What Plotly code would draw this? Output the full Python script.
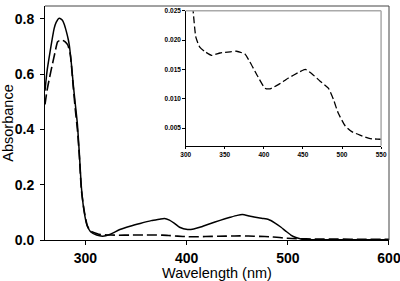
import plotly.graph_objects as go

# Solid curve (main)
solid_wl = [260, 262, 265, 269, 271, 274, 277, 279, 281, 283, 284, 286, 288, 290, 292, 294, 296, 298.5,
            301.5, 305, 311, 317, 324, 334, 344, 354, 365, 373, 378, 383, 388, 393, 401, 407, 413, 423,
            433, 443, 450, 455, 462, 468, 475, 481, 487, 493, 498, 503, 508, 513, 520, 530, 560, 600]
solid_abs = [0.54, 0.61, 0.68, 0.764, 0.787, 0.802, 0.795, 0.78, 0.755, 0.725, 0.705, 0.64, 0.56, 0.49,
             0.42, 0.31, 0.19, 0.107, 0.053, 0.03, 0.018, 0.014, 0.02, 0.038, 0.05, 0.06, 0.07, 0.075,
             0.078, 0.072, 0.06, 0.046, 0.038, 0.04, 0.046, 0.059, 0.071, 0.082, 0.089, 0.092, 0.087,
             0.082, 0.078, 0.074, 0.062, 0.047, 0.032, 0.018, 0.009, 0.004, 0.002, 0.001, 0.001, 0.001]

# Dashed curve (main and inset)
dash_wl = [260, 262, 264.5, 267, 270, 272.5, 275, 277, 280, 282.5, 285, 288, 290, 292, 294, 296, 299,
           302, 305, 309.5, 313, 318, 325, 333, 344, 357, 365, 376, 382, 391, 401.5, 408, 418.5, 431,
           446, 453, 461, 472, 482.5, 489, 495, 504, 512.5, 523, 536, 549, 575, 600]
dash_abs = [0.49, 0.54, 0.587, 0.63, 0.68, 0.717, 0.722, 0.723, 0.716, 0.705, 0.67, 0.55, 0.47, 0.40,
            0.30, 0.18, 0.10, 0.05, 0.032, 0.025, 0.0205, 0.0188, 0.018, 0.0174, 0.0178, 0.018, 0.0181,
            0.0176, 0.0163, 0.0141, 0.0118, 0.0117, 0.0124, 0.0135, 0.0146, 0.0150, 0.0143, 0.0130,
            0.0118, 0.0099, 0.0076, 0.0054, 0.0044, 0.0038, 0.0032, 0.0031, 0.0028, 0.0025]

main_xticks = [300, 400, 500, 600]
main_yticks = [0.0, 0.2, 0.4, 0.6, 0.8]
inset_xticks = [300, 350, 400, 450, 500, 550]
inset_yticks = [0.005, 0.010, 0.015, 0.020, 0.025]

FONT = "Arial, Liberation Sans, sans-serif"

fig = go.Figure()
fig.add_trace(go.Scatter(x=solid_wl, y=solid_abs, mode="lines",
                         line=dict(color="black", width=1.5, shape="spline", smoothing=0.6),
                         xaxis="x", yaxis="y", showlegend=False))
fig.add_trace(go.Scatter(x=dash_wl, y=dash_abs, mode="lines",
                         line=dict(color="black", width=1.6, dash="10px,4px", shape="spline", smoothing=0.6),
                         xaxis="x", yaxis="y", showlegend=False))
fig.add_trace(go.Scatter(x=dash_wl, y=dash_abs, mode="lines",
                         line=dict(color="black", width=1.3, dash="7px,3px", shape="spline", smoothing=0.5),
                         xaxis="x2", yaxis="y2", showlegend=False))

fig.update_layout(
    width=400, height=281,
    margin=dict(l=45, r=11, t=2, b=41),
    paper_bgcolor="white", plot_bgcolor="white",
    font=dict(family=FONT, color="black"),
    xaxis=dict(domain=[0, 1], range=[260, 600.01], tickvals=main_xticks,
               showline=True, linecolor="black", linewidth=1, ticks="outside", ticklen=4,
               tickcolor="black", showgrid=False, zeroline=False, automargin=False,
               ticklabeloverflow="allow", ticklabelstandoff=1,
               tickfont=dict(size=14, weight="bold", family=FONT),
               title=dict(text="Wavelength (nm)", font=dict(size=14.5, family=FONT), standoff=5)),
    yaxis=dict(domain=[0, 1], range=[0, 0.846], tickvals=main_yticks, tickformat=".1f",
               showline=True, linecolor="black", linewidth=1, ticks="outside", ticklen=4,
               tickcolor="black", showgrid=False, zeroline=False, automargin=False,
               ticklabeloverflow="allow", ticklabelstandoff=3,
               tickfont=dict(size=14, weight="bold", family=FONT),
               title=dict(text="Absorbance", font=dict(size=14.5, family=FONT), standoff=3)),
    xaxis2=dict(domain=[0.409, 0.977], anchor="y2", range=[300, 550.01], tickvals=inset_xticks,
                showline=True, linecolor="black", linewidth=1, ticks="outside", ticklen=2.5,
                tickcolor="black", showgrid=False, zeroline=False, ticklabeloverflow="allow",
                tickfont=dict(size=6.5, weight="bold", family=FONT)),
    yaxis2=dict(domain=[0.403, 0.980], anchor="x2", range=[0.002, 0.02501], tickvals=inset_yticks,
                tickformat=".3f", ticklabeloverflow="allow",
                showline=True, linecolor="black", linewidth=1, ticks="outside", ticklen=2.5,
                tickcolor="black", showgrid=False, zeroline=False,
                tickfont=dict(size=6.5, weight="bold", family=FONT)),
    shapes=[
        dict(type="line", xref="x domain", yref="y domain", x0=0, x1=1, y0=1, y1=1,
             line=dict(color="#444", width=1)),
        dict(type="line", xref="x domain", yref="y domain", x0=1, x1=1, y0=0, y1=1,
             line=dict(color="#444", width=1)),
        dict(type="line", xref="x2 domain", yref="y2 domain", x0=0, x1=1, y0=1, y1=1,
             line=dict(color="#aaa", width=1.5)),
        dict(type="line", xref="x2 domain", yref="y2 domain", x0=1, x1=1, y0=0, y1=1,
             line=dict(color="#aaa", width=1.5)),
    ],
)

fig.write_html("out.html", config={"displayModeBar": False},
               post_script="document.body.style.margin='0';document.body.style.padding='0';")
